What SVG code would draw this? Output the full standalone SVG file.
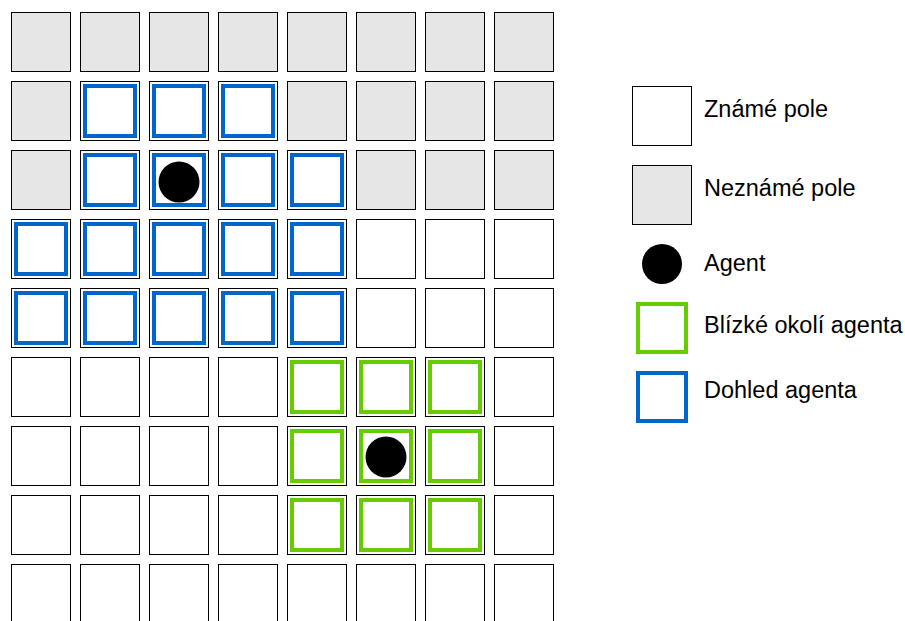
<svg xmlns="http://www.w3.org/2000/svg" width="905" height="621" viewBox="0 0 905 621">
<style>
.k{fill:#fff;stroke:#000;stroke-width:1}
.u{fill:#e6e6e6;stroke:#000;stroke-width:1}
.b{fill:none;stroke:#0066cc;stroke-width:4}
.g{fill:none;stroke:#66cc00;stroke-width:4}
.a{fill:#000}
.t{font-family:"Liberation Sans",Arial,sans-serif;font-size:23.5px;fill:#000}
</style>
<defs>
<rect id="cell" x="0.5" y="0.5" width="59" height="59"/>
<rect id="ring" x="5" y="5" width="50" height="50"/>
</defs>
<g id="grid">
<g id="row0" transform="translate(11,12)">
<use href="#cell" class="u" x="0"/><use href="#cell" class="u" x="69"/><use href="#cell" class="u" x="138"/><use href="#cell" class="u" x="207"/><use href="#cell" class="u" x="276"/><use href="#cell" class="u" x="345"/><use href="#cell" class="u" x="414"/><use href="#cell" class="u" x="483"/>
</g>
<g id="row1" transform="translate(11,81)">
<use href="#cell" class="u" x="0"/><use href="#cell" class="k" x="69"/><use href="#cell" class="k" x="138"/><use href="#cell" class="k" x="207"/><use href="#cell" class="u" x="276"/><use href="#cell" class="u" x="345"/><use href="#cell" class="u" x="414"/><use href="#cell" class="u" x="483"/>
<use href="#ring" class="b" x="69"/><use href="#ring" class="b" x="138"/><use href="#ring" class="b" x="207"/>
</g>
<g id="row2" transform="translate(11,150)">
<use href="#cell" class="u" x="0"/><use href="#cell" class="k" x="69"/><use href="#cell" class="k" x="138"/><use href="#cell" class="k" x="207"/><use href="#cell" class="k" x="276"/><use href="#cell" class="u" x="345"/><use href="#cell" class="u" x="414"/><use href="#cell" class="u" x="483"/>
<use href="#ring" class="b" x="69"/><use href="#ring" class="b" x="138"/><use href="#ring" class="b" x="207"/><use href="#ring" class="b" x="276"/>
</g>
<g id="row3" transform="translate(11,219)">
<use href="#cell" class="k" x="0"/><use href="#cell" class="k" x="69"/><use href="#cell" class="k" x="138"/><use href="#cell" class="k" x="207"/><use href="#cell" class="k" x="276"/><use href="#cell" class="k" x="345"/><use href="#cell" class="k" x="414"/><use href="#cell" class="k" x="483"/>
<use href="#ring" class="b" x="0"/><use href="#ring" class="b" x="69"/><use href="#ring" class="b" x="138"/><use href="#ring" class="b" x="207"/><use href="#ring" class="b" x="276"/>
</g>
<g id="row4" transform="translate(11,288)">
<use href="#cell" class="k" x="0"/><use href="#cell" class="k" x="69"/><use href="#cell" class="k" x="138"/><use href="#cell" class="k" x="207"/><use href="#cell" class="k" x="276"/><use href="#cell" class="k" x="345"/><use href="#cell" class="k" x="414"/><use href="#cell" class="k" x="483"/>
<use href="#ring" class="b" x="0"/><use href="#ring" class="b" x="69"/><use href="#ring" class="b" x="138"/><use href="#ring" class="b" x="207"/><use href="#ring" class="b" x="276"/>
</g>
<g id="row5" transform="translate(11,357)">
<use href="#cell" class="k" x="0"/><use href="#cell" class="k" x="69"/><use href="#cell" class="k" x="138"/><use href="#cell" class="k" x="207"/><use href="#cell" class="k" x="276"/><use href="#cell" class="k" x="345"/><use href="#cell" class="k" x="414"/><use href="#cell" class="k" x="483"/>
<use href="#ring" class="g" x="276"/><use href="#ring" class="g" x="345"/><use href="#ring" class="g" x="414"/>
</g>
<g id="row6" transform="translate(11,426)">
<use href="#cell" class="k" x="0"/><use href="#cell" class="k" x="69"/><use href="#cell" class="k" x="138"/><use href="#cell" class="k" x="207"/><use href="#cell" class="k" x="276"/><use href="#cell" class="k" x="345"/><use href="#cell" class="k" x="414"/><use href="#cell" class="k" x="483"/>
<use href="#ring" class="g" x="276"/><use href="#ring" class="g" x="345"/><use href="#ring" class="g" x="414"/>
</g>
<g id="row7" transform="translate(11,495)">
<use href="#cell" class="k" x="0"/><use href="#cell" class="k" x="69"/><use href="#cell" class="k" x="138"/><use href="#cell" class="k" x="207"/><use href="#cell" class="k" x="276"/><use href="#cell" class="k" x="345"/><use href="#cell" class="k" x="414"/><use href="#cell" class="k" x="483"/>
<use href="#ring" class="g" x="276"/><use href="#ring" class="g" x="345"/><use href="#ring" class="g" x="414"/>
</g>
<g id="row8" transform="translate(11,564)">
<use href="#cell" class="k" x="0"/><use href="#cell" class="k" x="69"/><use href="#cell" class="k" x="138"/><use href="#cell" class="k" x="207"/><use href="#cell" class="k" x="276"/><use href="#cell" class="k" x="345"/><use href="#cell" class="k" x="414"/><use href="#cell" class="k" x="483"/>
</g>
</g>
<g id="agent1"><circle class="a" cx="179" cy="182" r="20.5"/></g>
<g id="agent2"><circle class="a" cx="386" cy="457" r="20.5"/></g>
<g id="connectors"/>
<g id="legend">
<g id="legend-known"><rect class="k" x="632.5" y="86.5" width="59" height="59"/><text class="t" x="704" y="117">Známé pole</text></g>
<g id="legend-unknown"><rect class="u" x="632.5" y="165.5" width="59" height="59"/><text class="t" x="704" y="196">Neznámé pole</text></g>
<g id="legend-agent"><circle class="a" cx="662" cy="264" r="20"/><text class="t" x="704" y="271">Agent</text></g>
<g id="legend-near"><rect class="g" x="638" y="304" width="48" height="48"/><text class="t" x="704" y="333">Blízké okolí agenta</text></g>
<g id="legend-sight"><rect class="b" x="638" y="373" width="48" height="48"/><text class="t" x="704" y="398">Dohled agenta</text></g>
</g>
</svg>
